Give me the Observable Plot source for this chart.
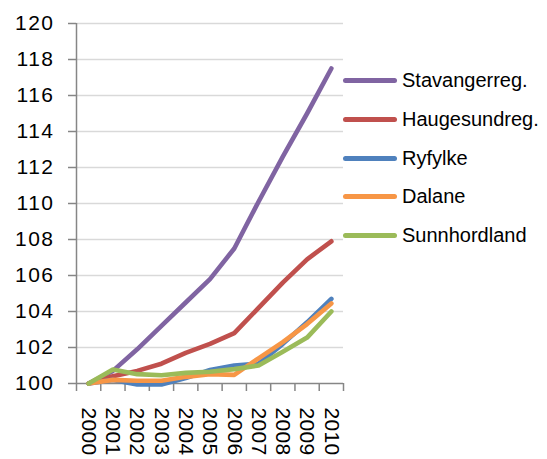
<!DOCTYPE html>
<html><head><meta charset="utf-8">
<script src="https://cdn.jsdelivr.net/npm/d3@7"></script>
<script src="https://cdn.jsdelivr.net/npm/@observablehq/plot@0.6"></script>
<style>
body{margin:0;background:#fff}
#wrap{position:relative;width:547px;height:459px;overflow:hidden}
#wrap svg g[aria-label="y-axis tick label"] text{letter-spacing:1.5px}
#wrap svg g[aria-label="x-axis tick label"] text{letter-spacing:0.3px}
.item{position:absolute;left:343px;height:0;display:flex;align-items:center;font-family:"Liberation Sans",Arial,sans-serif;font-size:20px;color:#000;white-space:nowrap}
.swatch{width:54px;height:5px;border-radius:3px;margin-right:5px}
</style>
</head><body><div id="wrap"></div>
<script>
const years = [2000,2001,2002,2003,2004,2005,2006,2007,2008,2009,2010];
const stavanger    = [100,100.7,101.9,103.2,104.5,105.8,107.5,110.1,112.6,115.0,117.5];
const haugesund    = [100,100.4,100.7,101.1,101.7,102.2,102.8,104.2,105.6,106.9,107.9];
const ryfylke      = [100,100.2,99.95,99.95,100.3,100.75,101.0,101.1,102.2,103.4,104.7];
const dalane       = [100,100.2,100.15,100.15,100.37,100.52,100.48,101.4,102.3,103.3,104.45];
const sunnhordland = [100,100.78,100.52,100.46,100.59,100.65,100.8,101.0,101.76,102.55,104.0];
const seriesNames = ["Stavangerreg.","Haugesundreg.","Ryfylke","Dalane","Sunnhordland"];
const seriesValues = [stavanger, haugesund, ryfylke, dalane, sunnhordland];
const colors = ["#8064A2","#C0504D","#4F81BD","#F79646","#9BBB59"];
const yTicks = [100,102,104,106,108,110,112,114,116,118,120];

const data = seriesNames.flatMap((name,i)=>years.map((year,j)=>({name, year, value: seriesValues[i][j]})));
const boundaries = years.map(y=>y-0.5).concat([years[years.length-1]+0.5]);

const chart = Plot.plot({
  width:547, height:459,
  marginLeft:76, marginRight:204, marginTop:23, marginBottom:76,
  x:{domain:[years[0]-0.5, years[years.length-1]+0.5]},
  y:{domain:[100,120]},
  color:{domain:seriesNames, range:colors},
  style:{fontFamily:"'Liberation Sans', Arial, sans-serif", fontSize:"21px", background:"white", color:"#000", overflow:"visible"},
  marks:[
    Plot.gridY(yTicks.filter(d=>d>100), {stroke:"#d9d9d9", strokeOpacity:1, strokeWidth:1.6}),
    Plot.axisY(yTicks, {tickSize:8, tickPadding:14, stroke:"#868686", strokeWidth:1.5, label:null, tickFormat:d=>String(d)}),
    Plot.axisX(boundaries, {tickSize:8, stroke:"#868686", strokeWidth:1.5, label:null, tickFormat:()=>""}),
    Plot.axisX(years, {tickSize:0, tickPadding:24, tickRotate:90, label:null, tickFormat:d=>String(d)}),
    Plot.ruleX([years[0]-0.5], {stroke:"#868686", strokeWidth:1.5}),
    Plot.ruleY([100], {stroke:"#868686", strokeWidth:1.5}),
    Plot.line(data, {x:"year", y:"value", z:"name", stroke:"name", strokeWidth:4.6, strokeLinecap:"round", strokeLinejoin:"round"})
  ]
});
const wrap = document.getElementById("wrap");
wrap.appendChild(chart);
seriesNames.forEach((name,i)=>{
  const it = document.createElement("div");
  it.className = "item";
  it.style.top = (80.7 + i*38.75) + "px";
  const sw = document.createElement("div");
  sw.className = "swatch";
  sw.style.background = colors[i];
  const tx = document.createElement("span");
  tx.textContent = name;
  it.appendChild(sw); it.appendChild(tx);
  wrap.appendChild(it);
});
</script>
</body></html>
